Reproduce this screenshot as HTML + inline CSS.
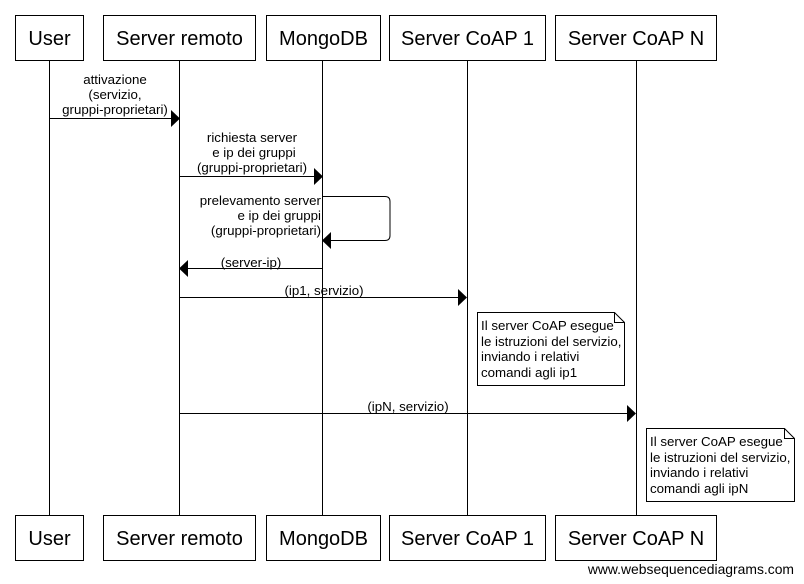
<!DOCTYPE html>
<html><head><meta charset="utf-8"><style>
html,body{margin:0;padding:0;background:#fff;width:804px;height:584px;overflow:hidden}
svg text{font-family:"Liberation Sans",Arial,sans-serif;fill:#000}
.t{font-size:20px}
.s{font-size:13.3px}
</style></head><body>
<svg width="804" height="584" viewBox="0 0 804 584" xmlns="http://www.w3.org/2000/svg" xml:space="preserve">
<g stroke="#000" stroke-width="1" fill="none">
<line x1="49.5" y1="60" x2="49.5" y2="515"/>
<line x1="179.5" y1="60" x2="179.5" y2="515"/>
<line x1="322.5" y1="60" x2="322.5" y2="515"/>
<line x1="467.5" y1="60" x2="467.5" y2="515"/>
<line x1="636.5" y1="60" x2="636.5" y2="515"/>
</g>
<g stroke="#000" stroke-width="1" fill="#fff">
<rect x="15.5" y="15.5" width="68" height="45"/>
<rect x="103.5" y="15.5" width="152" height="45"/>
<rect x="266.5" y="15.5" width="114" height="45"/>
<rect x="389.5" y="15.5" width="156" height="45"/>
<rect x="555.5" y="15.5" width="161" height="45"/>
<rect x="15.5" y="515.5" width="68" height="45"/>
<rect x="103.5" y="515.5" width="152" height="45"/>
<rect x="266.5" y="515.5" width="114" height="45"/>
<rect x="389.5" y="515.5" width="156" height="45"/>
<rect x="555.5" y="515.5" width="161" height="45"/>
</g>
<g text-anchor="middle">
<text x="49.5" y="45" class="t">User</text>
<text x="179.5" y="45" class="t">Server remoto</text>
<text x="323.5" y="45" class="t">MongoDB</text>
<text x="467.5" y="45" class="t">Server CoAP 1</text>
<text x="636" y="45" class="t">Server CoAP N</text>
<text x="49.5" y="545" class="t">User</text>
<text x="179.5" y="545" class="t">Server remoto</text>
<text x="323.5" y="545" class="t">MongoDB</text>
<text x="467.5" y="545" class="t">Server CoAP 1</text>
<text x="636" y="545" class="t">Server CoAP N</text>
</g>
<g stroke="#000" stroke-width="1" fill="none">
<line x1="49.5" y1="118.5" x2="172" y2="118.5"/>
<line x1="179.5" y1="176.5" x2="315" y2="176.5"/>
<path d="M322.5 196.5 H385 Q390 196.5 390 201.5 V235.5 Q390 240.5 385 240.5 H330"/>
<line x1="186" y1="268.5" x2="322.5" y2="268.5"/>
<line x1="179.5" y1="297.5" x2="460" y2="297.5"/>
<line x1="179.5" y1="413.5" x2="629" y2="413.5"/>
</g>
<g fill="#000">
<polygon points="171,110 180,118.5 171,127"/>
<polygon points="314,168 323,176.5 314,185"/>
<polygon points="331,232 322,240.5 331,249"/>
<polygon points="188,260 179,268.5 188,277"/>
<polygon points="458,289 467,297.5 458,306"/>
<polygon points="627,405 636,413.5 627,422"/>
</g>
<g text-anchor="middle">
<text x="115" y="84" class="s">attivazione</text>
<text x="115" y="99" class="s">(servizio,</text>
<text x="115" y="114" class="s">gruppi-proprietari)</text>
<text x="252" y="142" class="s">richiesta server</text>
<text x="254" y="157" class="s">e ip dei gruppi</text>
<text x="252" y="172" class="s">(gruppi-proprietari)</text>
<text x="251" y="267" class="s">(server-ip)</text>
<text x="324" y="295" class="s">(ip1, servizio)</text>
<text x="408" y="411" class="s">(ipN, servizio)</text>
</g>
<g text-anchor="end">
<text x="321" y="205" class="s">prelevamento server</text>
<text x="321" y="220" class="s">e ip dei gruppi</text>
<text x="321" y="235" class="s">(gruppi-proprietari)</text>
</g>
<g stroke="#000" stroke-width="1" fill="#fff">
<path d="M477.5 312.5 H614.5 L624.5 322.5 V385.5 H477.5 Z"/>
<path d="M614.5 312.5 V322.5 H624.5" fill="none"/>
<path d="M646.5 428.5 H784.5 L794.5 438.5 V501.5 H646.5 Z"/>
<path d="M784.5 428.5 V438.5 H794.5" fill="none"/>
</g>
<g>
<text x="481" y="330" class="s">Il server CoAP esegue</text>
<text x="481" y="346" class="s"> le istruzioni del servizio,</text>
<text x="481" y="361" class="s">inviando i relativi</text>
<text x="481" y="377" class="s">comandi agli ip1</text>
<text x="650" y="446" class="s">Il server CoAP esegue</text>
<text x="650" y="462" class="s"> le istruzioni del servizio,</text>
<text x="650" y="477" class="s">inviando i relativi</text>
<text x="650" y="493" class="s">comandi agli ipN</text>
</g>
<text x="794" y="574" text-anchor="end" style="font-size:13.9px">www.websequencediagrams.com</text>
</svg>
</body></html>
